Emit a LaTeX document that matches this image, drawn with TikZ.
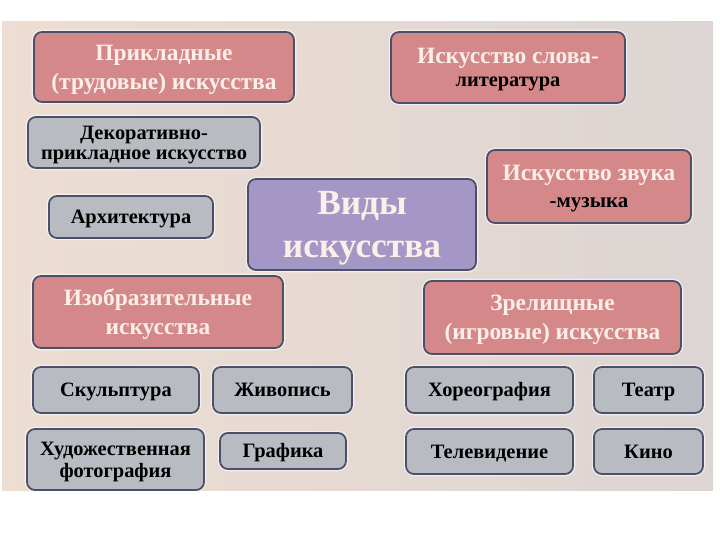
\documentclass[tikz,border=0pt]{standalone}
\usepackage{fontspec}
\setmainfont{Liberation Serif}
\definecolor{bordc}{HTML}{4B5068}
\definecolor{pinkf}{HTML}{D5888A}
\definecolor{grayf}{HTML}{B8BBC2}
\definecolor{purpf}{HTML}{A497C6}
\definecolor{wtext}{HTML}{FBEFE8}
\definecolor{bgl}{HTML}{EDDDD2}
\definecolor{bgr}{HTML}{DCD5D3}
\tikzset{
  box/.style={draw=bordc, line width=1.8bp, rounded corners=8bp, align=center, inner sep=1bp,
     text depth=0pt,
     preaction={draw=white, line width=4.5bp, opacity=0.55}},
  pinkbox/.style={box, fill=pinkf, text=wtext, font=\bfseries\fontsize{23.5}{29}\selectfont, text height=44.5bp},
  graybox/.style={box, fill=grayf, text=black, font=\bfseries\fontsize{20.5}{20}\selectfont, text height=13.5bp},
  graytwo/.style={graybox, text height=33.5bp},
  mainbox/.style={box, fill=purpf, text=wtext, font=\bfseries\fontsize{35.5}{43}\selectfont, text height=66.5bp},
}
\begin{document}
\begin{tikzpicture}[x=1bp,y=-1bp]
\useasboundingbox (0,0) rectangle (720,540);
\fill[white] (0,0) rectangle (720,540);
\shade[left color=bgl, right color=bgr] (2,22) rectangle (713,490);
% boxes
\node[pinkbox, minimum width=260bp, minimum height=70bp] (P) at (164,67) {Прикладные\\(трудовые) искусства};
\node[graytwo, minimum width=232bp, minimum height=51bp] (D) at (144,142.5) {Декоративно-\\прикладное искусство};
\node[graybox, minimum width=164bp, minimum height=42bp] (A) at (131,217) {Архитектура};
\node[mainbox, minimum width=228bp, minimum height=91bp] (V) at (362,224.5) {Виды\\искусства};
\node[pinkbox, minimum width=234bp, minimum height=71bp, text height=38bp] (S) at (508,67.5) {Искусство слова-\\[-6bp]{\color{black}\fontsize{20.5}{24}\selectfont литература}};
\node[pinkbox, minimum width=204bp, minimum height=73bp, text height=43bp] (Z) at (589,186.5) {Искусство звука\\[-1.5bp]{\color{black}\fontsize{21}{24}\selectfont -музыка}};
\node[pinkbox, minimum width=250bp, minimum height=72bp] (I) at (158,312) {Изобразительные\\искусства};
\node[pinkbox, minimum width=257bp, minimum height=73bp] (R) at (552.5,317.5) {Зрелищные\\(игровые) искусства};
\node[graybox, minimum width=166bp, minimum height=46bp] (Sk) at (116,390) {Скульптура};
\node[graybox, minimum width=139bp, minimum height=46bp] (Zh) at (282.5,390) {Живопись};
\node[graytwo, minimum width=177bp, minimum height=61bp, font=\bfseries\fontsize{20.5}{22}\selectfont, text height=35.5bp] (Kh) at (115.5,459.5) {Художественная\\фотография};
\node[graybox, minimum width=126bp, minimum height=36bp] (G) at (283,451) {Графика};
\node[graybox, minimum width=167bp, minimum height=46bp] (Ho) at (489.5,390) {Хореография};
\node[graybox, minimum width=109bp, minimum height=46bp] (T) at (648.5,390) {Театр};
\node[graybox, minimum width=167bp, minimum height=45bp] (Te) at (489.5,451.5) {Телевидение};
\node[graybox, minimum width=109bp, minimum height=45bp] (K) at (648.5,451.5) {Кино};
\end{tikzpicture}
\end{document}
